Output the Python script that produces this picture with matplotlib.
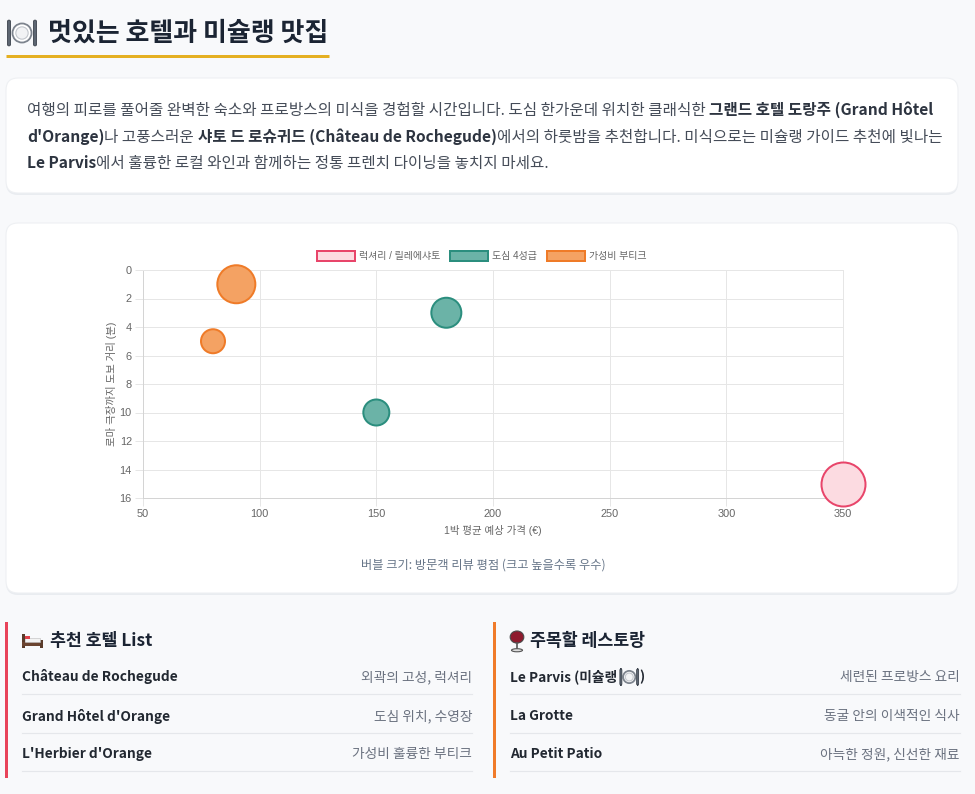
import matplotlib
matplotlib.use('Agg')
import matplotlib.pyplot as plt
from matplotlib.patches import FancyBboxPatch, Patch, Circle, Rectangle, Ellipse

plt.rcParams['font.family'] = ['Noto Sans CJK KR', 'DejaVu Sans']

# ---------------- data ----------------
title = '멋있는 호텔과 미슐랭 맛집'
categories = ['럭셔리 / 릴레에샤토', '도심 4성급', '가성비 부티크']
lux_price = [350]
lux_dist = [15]
lux_r = [22]
city_price = [180, 150]
city_dist = [3, 10]
city_r = [15, 13]
budget_price = [90, 80]
budget_dist = [1, 5]
budget_r = [19, 12]
x_ticks = [50, 100, 150, 200, 250, 300, 350]
y_ticks = [0, 2, 4, 6, 8, 10, 12, 14, 16]
x_label = '1박 평균 예상 가격 (€)'
y_label = '로마 극장까지 도보 거리 (분)'
caption = '버블 크기: 방문객 리뷰 평점 (크고 높을수록 우수)'
para_lines = [
    [('여행의 피로를 풀어줄 완벽한 숙소와 프로방스의 미식을 경험할 시간입니다. 도심 한가운데 위치한 클래식한 ', False),
     ('그랜드 호텔 도랑주 (Grand Hôtel', True)],
    [("d'Orange)", True), ('나 고풍스러운 ', False), ('샤토 드 로슈귀드 (Château de Rochegude)', True),
     ('에서의 하룻밤을 추천합니다. 미식으로는 미슐랭 가이드 추천에 빛나는', False)],
    [('Le Parvis', True), ('에서 훌륭한 로컬 와인과 함께하는 정통 프렌치 다이닝을 놓치지 마세요.', False)],
]
hotel_heading = '추천 호텔 List'
hotel_names = ['Château de Rochegude', "Grand Hôtel d'Orange", "L'Herbier d'Orange"]
hotel_desc = ['외곽의 고성, 럭셔리', '도심 위치, 수영장', '가성비 훌륭한 부티크']
rest_heading = '주목할 레스토랑'
rest_names = ['Le Parvis (미슐랭 ', 'La Grotte', 'Au Petit Patio']
rest_desc = ['세련된 프로방스 요리', '동굴 안의 이색적인 식사', '아늑한 정원, 신선한 재료']

# ---------------- figure ----------------
W, H = 975, 794
fig = plt.figure(figsize=(W / 100, H / 100), dpi=100)
fig.patch.set_facecolor('#f8f9fb')
bg = fig.add_axes([0, 0, 1, 1], zorder=0)
bg.set_xlim(0, W)
bg.set_ylim(H, 0)
bg.axis('off')

PX = 0.72  # px -> pt


def card(x0, y0, x1, y1):
    bg.add_patch(FancyBboxPatch((x0, y0 + 2), x1 - x0, y1 - y0, boxstyle='round,pad=0,rounding_size=12',
                                fc='#e9ecf0', ec='none', zorder=1))
    bg.add_patch(FancyBboxPatch((x0, y0), x1 - x0, y1 - y0, boxstyle='round,pad=0,rounding_size=12',
                                fc='white', ec='#eef0f3', lw=0.8, zorder=2))


def plate(cx, cy, s, z=5):
    bg.add_patch(Circle((cx, cy), s * 0.34, fc='white', ec='#7d848e', lw=1.3, zorder=z))
    bg.add_patch(Circle((cx, cy), s * 0.22, fc='#f2f3f5', ec='#c3c7cd', lw=0.8, zorder=z))
    bg.add_patch(FancyBboxPatch((cx - s * 0.52, cy - s * 0.46), s * 0.11, s * 0.92,
                                boxstyle='round,pad=0,rounding_size=1.5', fc='#5d6672', ec='#3b424c', lw=0.6, zorder=z))
    bg.add_patch(FancyBboxPatch((cx + s * 0.41, cy - s * 0.46), s * 0.11, s * 0.92,
                                boxstyle='round,pad=0,rounding_size=1.5', fc='#5d6672', ec='#3b424c', lw=0.6, zorder=z))


def bed(x, cy, s, z=5):
    bg.add_patch(Rectangle((x, cy - s * 0.35), s * 0.12, s * 0.7, fc='#5a3b2a', ec='none', zorder=z))
    bg.add_patch(Rectangle((x, cy + s * 0.05), s, s * 0.2, fc='#6b4430', ec='none', zorder=z))
    bg.add_patch(Rectangle((x + s * 0.88, cy - s * 0.05), s * 0.12, s * 0.4, fc='#5a3b2a', ec='none', zorder=z))
    bg.add_patch(Rectangle((x + s * 0.12, cy - s * 0.12), s * 0.76, s * 0.18, fc='#f3f3f3', ec='#bbb', lw=0.4, zorder=z))
    bg.add_patch(Rectangle((x + s * 0.14, cy - s * 0.22), s * 0.26, s * 0.14, fc='#e0404a', ec='none', zorder=z))


def wine(cx, cy, s, z=5):
    bg.add_patch(Ellipse((cx, cy - s * 0.18), s * 0.62, s * 0.55, fc='#8e1b2e', ec='#4a4a4a', lw=0.8, zorder=z))
    bg.plot([cx, cx], [cy + 0.08 * s, cy + 0.38 * s], color='#555', lw=1.2, zorder=z)
    bg.add_patch(Ellipse((cx, cy + 0.42 * s), s * 0.5, s * 0.14, fc='#ddd', ec='#555', lw=0.8, zorder=z))


fig.canvas.draw()
R = fig.canvas.get_renderer()


def tw(s, **kw):
    t = bg.text(0, 0, s + '|', **kw)
    w1 = t.get_window_extent(R).width
    t.remove()
    t = bg.text(0, 0, '|', **kw)
    w2 = t.get_window_extent(R).width
    t.remove()
    return w1 - w2


# ---------------- title ----------------
plate(22, 33, 28)
bg.text(48, 33, title, fontsize=26 * PX, fontweight='bold', color='#1b2433', va='center', ha='left', zorder=5)
bg.plot([6, 329], [55.5, 55.5], color='#e5b022', lw=3 * PX, solid_capstyle='butt', zorder=5)

# ---------------- paragraph card ----------------
card(6, 78, 958, 193)
fs_p = 15.6 * PX
y_base = [115, 142, 168]
for segs, yb in zip(para_lines, y_base):
    x = 27
    for s, b in segs:
        kw = dict(fontsize=fs_p, fontweight='bold' if b else 'normal',
                  color='#2d3440' if b else '#454c58', va='baseline', ha='left', zorder=5)
        bg.text(x, yb, s, **kw)
        x += tw(s, **kw)

# ---------------- chart card ----------------
card(6, 223, 958, 593)
ax_l, ax_r, ax_t, ax_b = 143, 843, 270, 498
ax = fig.add_axes([ax_l / W, (H - ax_b) / H, (ax_r - ax_l) / W, (ax_b - ax_t) / H], zorder=3)
ax.set_facecolor('white')
chart_font = ['Liberation Sans', 'Noto Sans CJK KR']

colors = [('#fcdbe1', '#e8456a'), ('#6bb3a7', '#2b8e7e'), ('#f4a263', '#ef7b28')]
series = [(lux_price, lux_dist, lux_r), (city_price, city_dist, city_r), (budget_price, budget_dist, budget_r)]
for (px, py, pr), (fc, ec) in zip(series, colors):
    sizes = [(2 * r * PX) ** 2 for r in pr]
    ax.scatter(px, py, s=sizes, c=fc, edgecolors=ec, linewidths=2 * PX, zorder=4, clip_on=False)

ax.set_xlim(50, 350)
ax.set_ylim(16, 0)
ax.set_xticks(x_ticks)
ax.set_yticks(y_ticks)
ax.grid(True, color='#e6e6e6', lw=1 * PX, zorder=0)
ax.set_axisbelow(True)
ax.tick_params(axis='both', length=6, width=1 * PX, color='#e6e6e6', labelcolor='#666666', labelsize=11 * PX, pad=2)
for lab in ax.get_xticklabels() + ax.get_yticklabels():
    lab.set_family(chart_font)
for sp in ax.spines.values():
    sp.set_color('#e6e6e6')
    sp.set_linewidth(1 * PX)
ax.spines['left'].set_color('#d4d4d4')
ax.spines['bottom'].set_color('#d4d4d4')
ax.set_xlabel(x_label, fontsize=10.5 * PX, color='#666666', family=chart_font, labelpad=4)
ax.set_ylabel(y_label, fontsize=10.5 * PX, color='#666666', family=chart_font, labelpad=2)

handles = [Patch(facecolor=fc, edgecolor=ec, linewidth=2 * PX, label=c) for c, (fc, ec) in zip(categories, colors)]
leg = ax.legend(handles=handles, loc='lower center', bbox_to_anchor=(0.484, 1.02), ncol=3, frameon=False,
                prop={'family': chart_font, 'size': 10 * PX}, handlelength=3.8, handleheight=1.2,
                handletextpad=0.4, columnspacing=1.0, borderaxespad=0)
for t in leg.get_texts():
    t.set_color('#666666')

bg.text(483, 565, caption, fontsize=12.2 * PX, color='#667588', ha='center', va='center', zorder=5)

# ---------------- lists ----------------
fs_h = 17.3 * PX
fs_i = 13.7 * PX
row_y = [677, 716, 754]
sep_y = [694, 733, 771]

# hotels
bg.add_patch(Rectangle((5, 622), 3, 156, fc='#e8435a', ec='none', zorder=5))
bed(22, 641, 21)
bg.text(50, 641, hotel_heading, fontsize=fs_h, fontweight='bold', color='#1b2433', va='center', ha='left', zorder=5)
for n, d, yy, sy in zip(hotel_names, hotel_desc, row_y, sep_y):
    bg.text(22, yy, n, fontsize=fs_i, fontweight='bold', color='#222831', va='center', ha='left', zorder=5)
    bg.text(472, yy, d, fontsize=fs_i, color='#6b7280', va='center', ha='right', zorder=5)
    bg.plot([22, 472], [sy, sy], color='#e5e7eb', lw=1.2 * PX, zorder=5)

# restaurants
bg.add_patch(Rectangle((493, 622), 3, 156, fc='#f07b2a', ec='none', zorder=5))
wine(517, 641, 22)
bg.text(530, 641, rest_heading, fontsize=fs_h, fontweight='bold', color='#1b2433', va='center', ha='left', zorder=5)
for i, (n, d, yy, sy) in enumerate(zip(rest_names, rest_desc, row_y, sep_y)):
    kw = dict(fontsize=fs_i, fontweight='bold', color='#222831', va='center', ha='left', zorder=5)
    bg.text(510, yy, n, **kw)
    if i == 0:
        xx = 510 + tw(n, **kw)
        plate(xx + 9, yy, 18)
        bg.text(xx + 19, yy, ')', **kw)
    bg.text(960, yy, d, fontsize=fs_i, color='#6b7280', va='center', ha='right', zorder=5)
    bg.plot([510, 960], [sy, sy], color='#e5e7eb', lw=1.2 * PX, zorder=5)

fig.savefig('out.png', dpi=100, facecolor=fig.get_facecolor())
